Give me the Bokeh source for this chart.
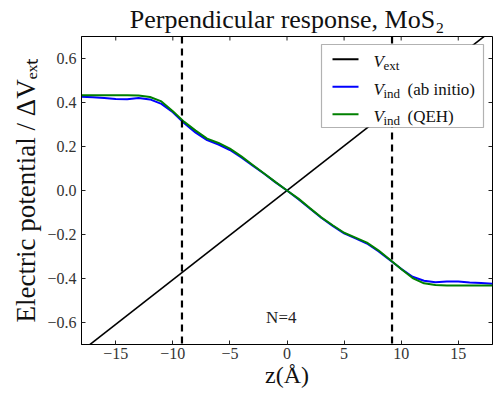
from bokeh.plotting import figure
from bokeh.layouts import row, column
from bokeh.models import Range1d, FixedTicker, Span, Label, BoxAnnotation, Spacer
from bokeh.embed import file_html
from bokeh.resources import INLINE

# ---- data ----
z = [-18, -17, -16, -15, -14, -13, -12, -11, -10, -9, -8, -7, -6, -5, -4, -3, -2, -1,
     0, 1, 2, 3, 4, 5, 6, 7, 8, 9, 10, 11, 12, 13, 14, 15, 16, 17, 18]
v_ab_initio = [0.426, 0.424, 0.420, 0.416, 0.415, 0.420, 0.414, 0.394, 0.356, 0.306,
               0.263, 0.229, 0.209, 0.184, 0.150, 0.113, 0.076, 0.037,
               0.000, -0.040, -0.082, -0.124, -0.161, -0.195, -0.218, -0.241, -0.276,
               -0.316, -0.356, -0.392, -0.410, -0.417, -0.414, -0.414, -0.418, -0.421, -0.424]
v_qeh = [0.433, 0.433, 0.433, 0.433, 0.433, 0.432, 0.425, 0.405, 0.360, 0.312,
         0.272, 0.236, 0.216, 0.190, 0.155, 0.116, 0.077, 0.038,
         0.000, -0.037, -0.080, -0.122, -0.158, -0.192, -0.214, -0.237, -0.272,
         -0.314, -0.357, -0.398, -0.422, -0.430, -0.432, -0.432, -0.432, -0.432, -0.432]
z_ext = [-18, 18]
v_ext = [-0.73, 0.73]
layer_edges = [-9.2, 9.2]

x_ticks = [-15, -10, -5, 0, 5, 10, 15]
x_tick_labels = ["\u221215", "\u221210", "\u22125", "0", "5", "10", "15"]
y_ticks = [-0.6, -0.4, -0.2, 0, 0.2, 0.4, 0.6]
y_tick_labels = ["\u22120.6", "\u22120.4", "\u22120.2", "0.0", "0.2", "0.4", "0.6"]

title_text = "Perpendicular response, MoS\u2082"
x_label = "z(\u00c5)"
y_label = "Electric potential / \u0394V\u2091\u2093\u209c"
annotation_text = "N=4"
annotation_pos = (-0.5, -0.578)

legend_colors = ["#000000", "#0000ff", "#008000"]
legend_main = ["V", "V", "V"]
legend_sub = ["ext", "ind", "ind"]
legend_rest = ["", "(ab initio)", "(QEH)"]

SERIF = "Liberation Serif"
X0, X1, Y0, Y1 = -18, 18, -0.7, 0.7

p = figure(frame_width=411, frame_height=308, x_range=Range1d(X0, X1), y_range=Range1d(Y0, Y1),
           output_backend="svg", toolbar_location=None,
           min_border_left=0, min_border_right=4, min_border_top=0, min_border_bottom=0)
p.background_fill_color = "white"
p.border_fill_color = "white"
p.outline_line_color = "black"
p.outline_line_width = 1
p.grid.visible = False

p.title.text = title_text
p.title.align = "center"
p.title.text_font = SERIF
p.title.text_font_size = "26px"
p.title.text_font_style = "normal"
p.title.text_color = "#111111"
p.title.standoff = 5

def style_axis(ax, ticks, labels):
    ax.ticker = FixedTicker(ticks=ticks, minor_ticks=[])
    ax.major_tick_in = 4
    ax.major_tick_out = 0
    ax.minor_tick_line_color = None
    ax.major_tick_line_color = "#222222"
    ax.axis_line_color = "black"
    ax.major_label_text_font = SERIF
    ax.major_label_text_color = "#333333"
    ax.major_label_overrides = {t: l for t, l in zip(ticks, labels)}
    ax.major_label_text_font_size = "16px"
    ax.axis_label_text_font = SERIF
    ax.axis_label_text_font_style = "normal"
    ax.axis_label_text_color = "#111111"

style_axis(p.xaxis[0], x_ticks, x_tick_labels)
style_axis(p.yaxis[0], y_ticks, y_tick_labels)
p.xaxis.axis_label = x_label
p.yaxis.axis_label = y_label
p.xaxis.major_label_standoff = 3
p.xaxis.axis_label_text_font_size = "24px"
p.xaxis.axis_label_standoff = 0
p.yaxis.major_label_standoff = 5
p.yaxis.axis_label_text_font_size = "27px"
p.yaxis.axis_label_standoff = 3

# inward ticks on the top and right frame edges, drawn from the tick lists
tick_dx = 4 * (X1 - X0) / 411
tick_dy = 4 * (Y1 - Y0) / 308
p.segment(x0=x_ticks, y0=[Y1] * len(x_ticks), x1=x_ticks, y1=[Y1 - tick_dy] * len(x_ticks),
          line_color="#222222", line_width=1)
p.segment(x0=[X1] * len(y_ticks), y0=y_ticks, x1=[X1 - tick_dx] * len(y_ticks), y1=y_ticks,
          line_color="#222222", line_width=1)

p.line(z_ext, v_ext, line_color="black", line_width=1.6)
p.line(z, v_ab_initio, line_color="#0000ff", line_width=2)
p.line(z, v_qeh, line_color="#008000", line_width=2)

for loc in layer_edges:
    p.add_layout(Span(location=loc, dimension="height", line_color="black",
                      line_width=2.2, line_dash="7 5"))

p.add_layout(Label(x=annotation_pos[0], y=annotation_pos[1], text=annotation_text,
                   text_align="center", text_baseline="middle", text_font=SERIF,
                   text_font_size="17px", text_color="#222222"))

# ---- legend (screen units relative to plot frame) ----
p.add_layout(BoxAnnotation(left=240, right=402, bottom=217, top=300,
                           left_units="screen", right_units="screen",
                           bottom_units="screen", top_units="screen",
                           fill_color="white", fill_alpha=1.0,
                           line_color="black", line_width=1.2, level="annotation"))
row_base = [282.7, 255.2, 227.7]
for i in range(3):
    yb = row_base[i]
    p.add_layout(BoxAnnotation(left=251, right=277, bottom=yb + 1.6, top=yb + 3.6,
                               left_units="screen", right_units="screen",
                               bottom_units="screen", top_units="screen",
                               fill_color=legend_colors[i], fill_alpha=1.0,
                               line_color=None, level="annotation"))
    p.add_layout(Label(x=292, y=yb, x_units="screen", y_units="screen", text=legend_main[i],
                       text_font=SERIF, text_font_size="17px", text_font_style="italic",
                       text_baseline="alphabetic", text_color="#111111", level="annotation"))
    p.add_layout(Label(x=302, y=yb - 4, x_units="screen", y_units="screen", text=legend_sub[i],
                       text_font=SERIF, text_font_size="13px",
                       text_baseline="alphabetic", text_color="#111111", level="annotation"))
    if legend_rest[i]:
        p.add_layout(Label(x=326, y=yb, x_units="screen", y_units="screen", text=legend_rest[i],
                           text_font=SERIF, text_font_size="17px",
                           text_baseline="alphabetic", text_color="#111111", level="annotation"))

layout = column(Spacer(height=0), row(Spacer(width=8), p))
open("out.html", "w").write(file_html(layout, INLINE))
